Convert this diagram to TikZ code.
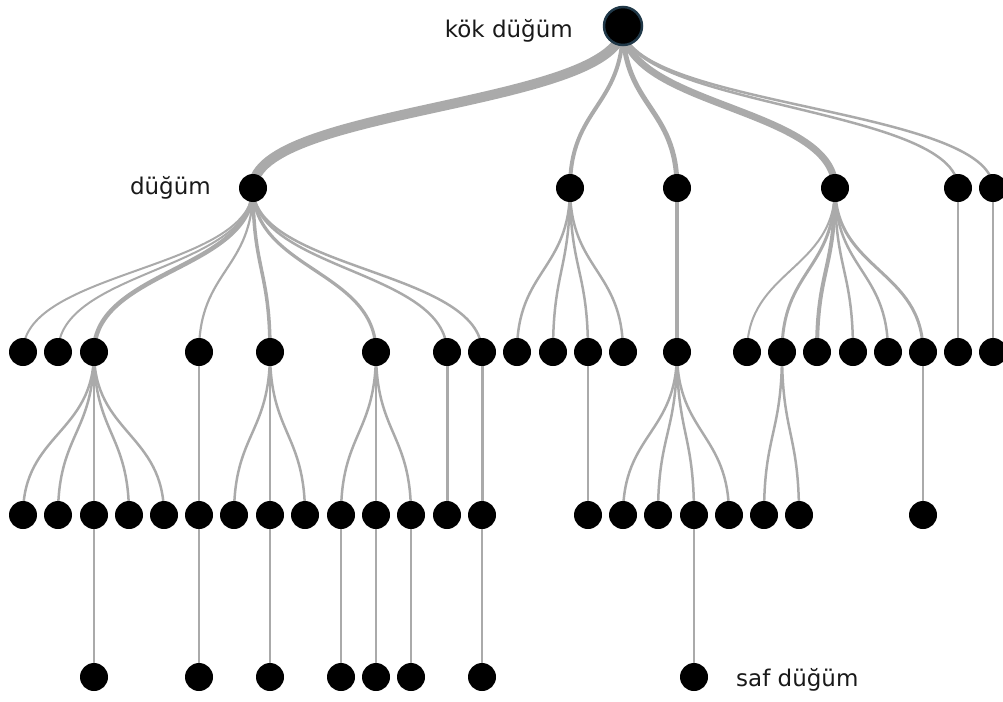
\documentclass[tikz,border=0pt]{standalone}
\usepackage{fontspec}
\setmainfont{DejaVu Sans}
\usetikzlibrary{calc,backgrounds}
\definecolor{edgegray}{RGB}{170,170,170}
\definecolor{rootrim}{RGB}{32,56,72}
\tikzset{
  vert/.style={circle,fill=black,minimum size=28pt,inner sep=0pt},
  rootvert/.style={circle,fill=black,draw=rootrim,line width=2.5pt,minimum size=38pt,inner sep=0pt},
  edge/.style={draw=edgegray},
  lbl/.style={font=\fontsize{23}{27}\selectfont,text=black!90,inner sep=0pt}
}
\newcommand\treelink[3]{\draw[edge,line width=#3pt] let \p1=(#1), \p2=(#2) in (\p1) .. controls (\x1,{0.5*\y1+0.5*\y2}) and (\x2,{0.5*\y1+0.5*\y2}) .. (\p2);}
\begin{document}
\begin{tikzpicture}[x=1pt,y=-1pt]
\useasboundingbox (0,0) rectangle (1003,701);
% root
\node[rootvert] (r) at (623,26) {};
% level 1
\foreach \n/\x in {a1/253,a2/570,a3/677,a4/835,a5/958,a6/993}
  \node[vert] (\n) at (\x,188) {};
% level 2
\foreach \n/\x in {b1/23,b2/58,b3/94,b4/199,b5/270,b6/376,b7/447,b8/482,b9/517,b10/553,b11/588,b12/623,b13/677,b14/747,b15/782,b16/817,b17/853,b18/888,b19/923,b20/958,b21/993}
  \node[vert] (\n) at (\x,352) {};
% level 3
\foreach \n/\x in {c1/23,c2/58,c3/94,c4/129,c5/164,c6/199,c7/234,c8/270,c9/305,c10/341,c11/376,c12/411,c13/447,c14/482,c15/588,c16/623,c17/658,c18/694,c19/729,c20/764,c21/799,c22/923}
  \node[vert] (\n) at (\x,515) {};
% level 4
\foreach \n/\x in {d1/94,d2/199,d3/270,d4/341,d5/376,d6/411,d7/482,d8/694}
  \node[vert] (\n) at (\x,677) {};
% labels
\node[lbl,anchor=east] (lroot) at (573,31) {kök düğüm};
\node[lbl,anchor=east] (lnode) at (211,188) {düğüm};
\node[lbl,anchor=west] (lleaf) at (736,680) {saf düğüm};
\begin{pgfonlayer}{background}
\treelink{r}{a1}{10}
\treelink{r}{a2}{4}
\treelink{r}{a3}{5}
\treelink{r}{a4}{7}
\treelink{r}{a5}{2.5}
\treelink{r}{a6}{2.5}
\treelink{a1}{b1}{2}
\treelink{a1}{b2}{2}
\treelink{a1}{b3}{4.5}
\treelink{a1}{b4}{2.2}
\treelink{a1}{b5}{3.5}
\treelink{a1}{b6}{3.2}
\treelink{a1}{b7}{2.5}
\treelink{a1}{b8}{2.5}
\treelink{a2}{b9}{2.5}
\treelink{a2}{b10}{2.5}
\treelink{a2}{b11}{2.5}
\treelink{a2}{b12}{2.5}
\treelink{a3}{b13}{4}
\treelink{a4}{b14}{2}
\treelink{a4}{b15}{3}
\treelink{a4}{b16}{4}
\treelink{a4}{b17}{2.5}
\treelink{a4}{b18}{2.5}
\treelink{a4}{b19}{3}
\treelink{a5}{b20}{2.5}
\treelink{a6}{b21}{2.5}
\treelink{b3}{c1}{2.5}
\treelink{b3}{c2}{2.5}
\treelink{b3}{c3}{2.5}
\treelink{b3}{c4}{2.5}
\treelink{b3}{c5}{2.5}
\treelink{b4}{c6}{2.5}
\treelink{b5}{c7}{2.5}
\treelink{b5}{c8}{2.5}
\treelink{b5}{c9}{2.5}
\treelink{b6}{c10}{2.5}
\treelink{b6}{c11}{2.5}
\treelink{b6}{c12}{2.5}
\treelink{b7}{c13}{3}
\treelink{b8}{c14}{3}
\treelink{b11}{c15}{2.5}
\treelink{b13}{c16}{2.5}
\treelink{b13}{c17}{2.5}
\treelink{b13}{c18}{2.5}
\treelink{b13}{c19}{2.5}
\treelink{b15}{c20}{2.5}
\treelink{b15}{c21}{2.5}
\treelink{b19}{c22}{2.5}
\treelink{c3}{d1}{2}
\treelink{c6}{d2}{2}
\treelink{c8}{d3}{2}
\treelink{c10}{d4}{2.5}
\treelink{c11}{d5}{2.5}
\treelink{c12}{d6}{2.5}
\treelink{c14}{d7}{2.5}
\treelink{c18}{d8}{2}
\end{pgfonlayer}
\end{tikzpicture}
\end{document}
